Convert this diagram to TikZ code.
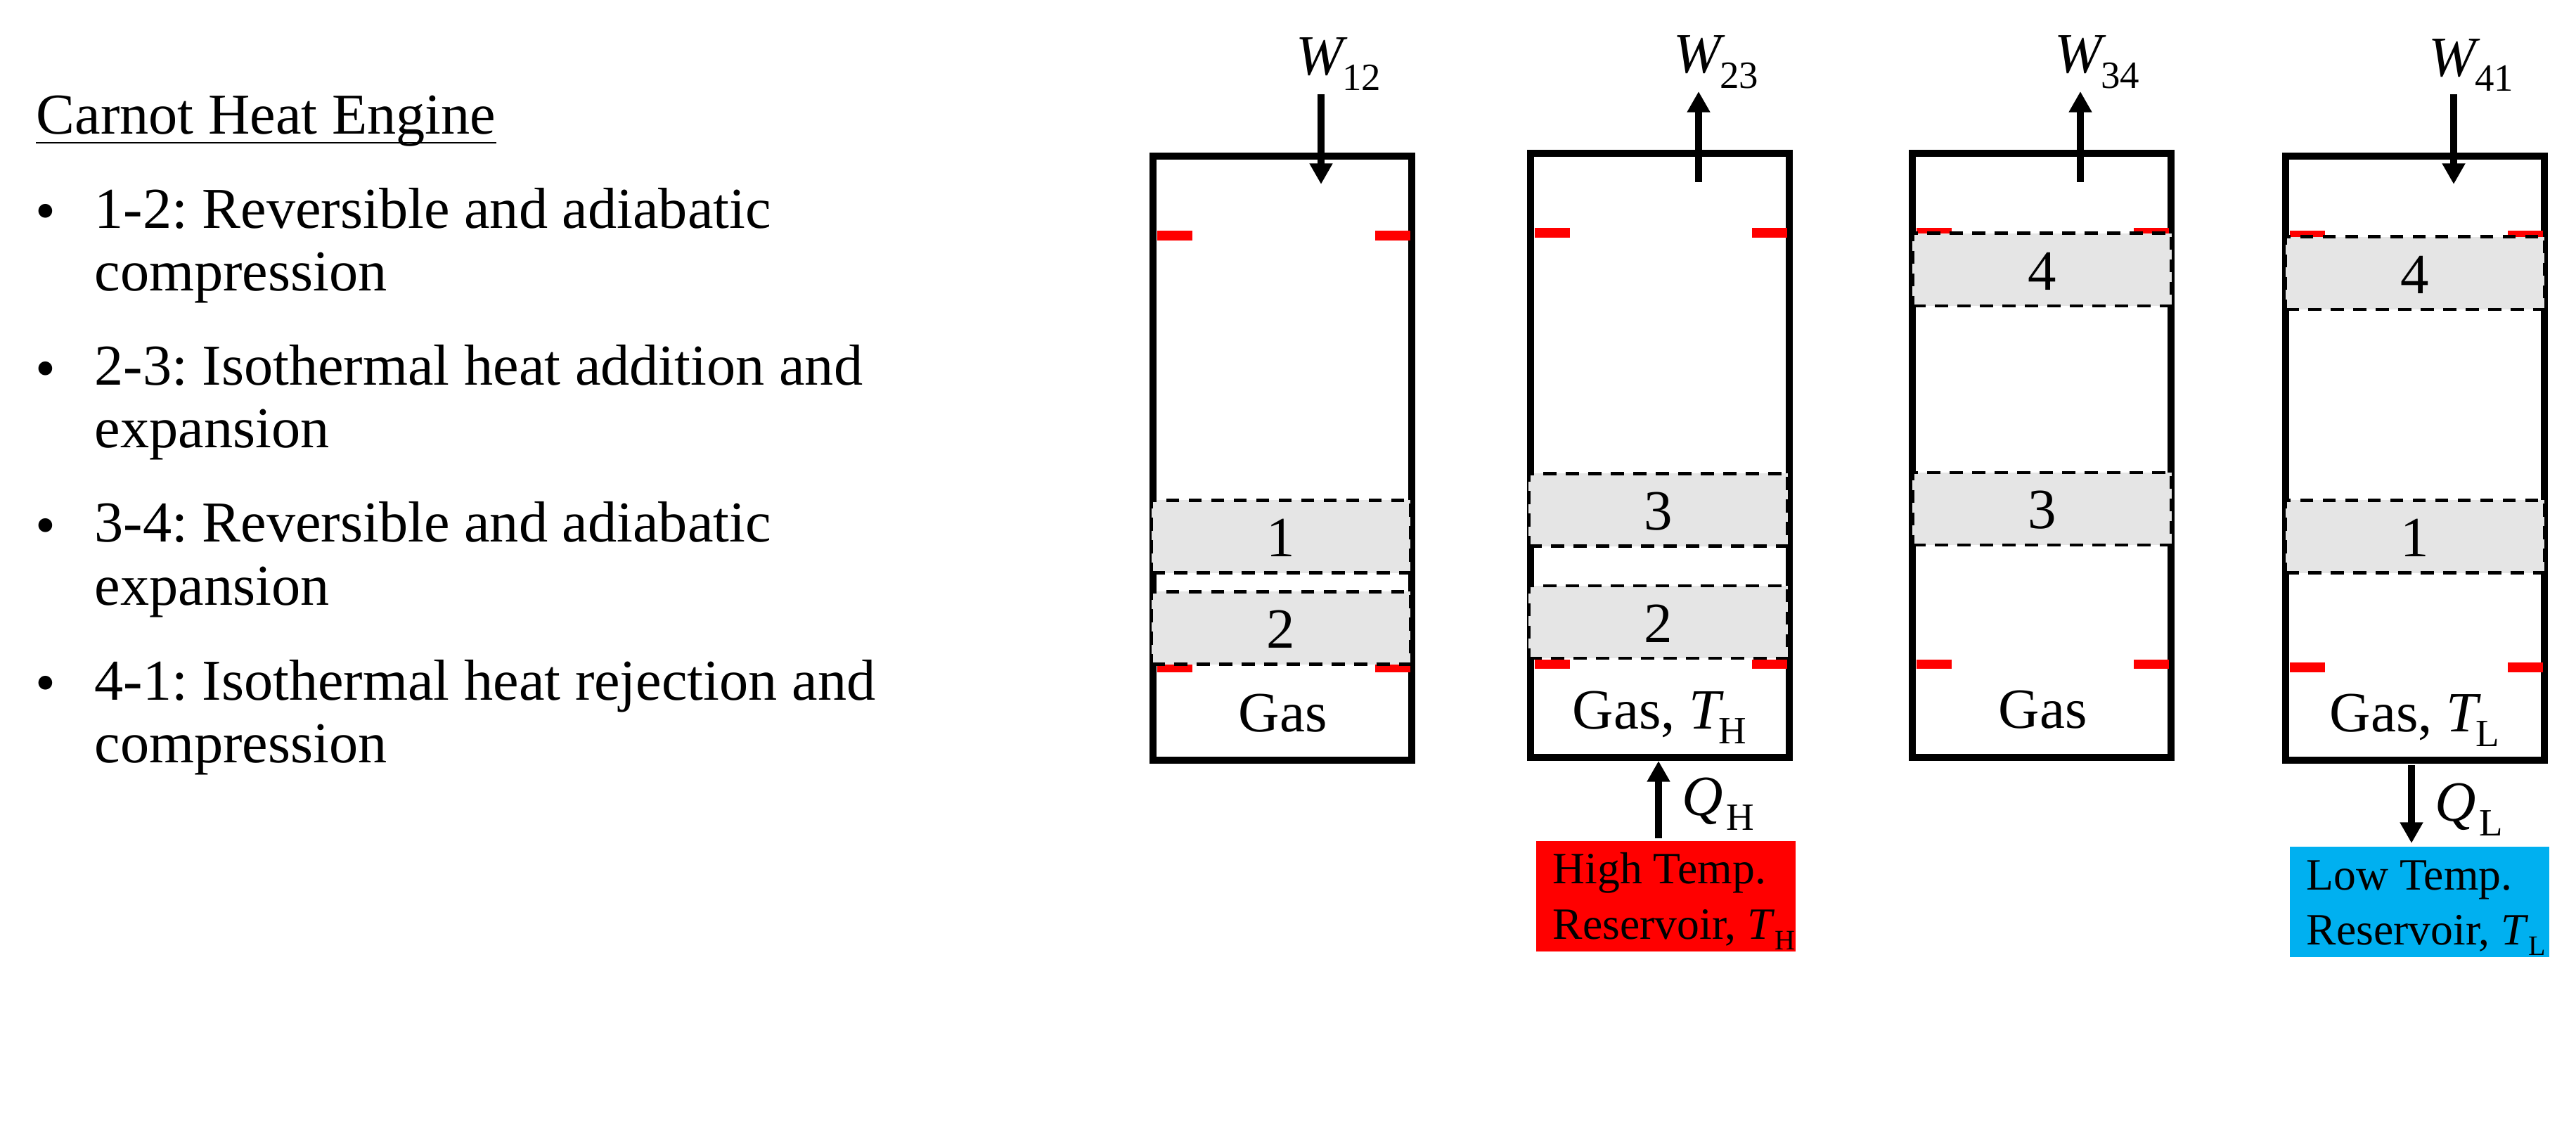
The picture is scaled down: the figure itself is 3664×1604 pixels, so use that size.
\documentclass[tikz,border=0pt]{standalone}
\usepackage{fontspec}
\setmainfont{Liberation Serif}
\usetikzlibrary{arrows.meta}
\definecolor{coldblue}{HTML}{00B0F0}
\tikzset{
  x=0.01cm, y=-0.01cm,
  heading/.style={inner sep=0, anchor=base west, font=\fontsize{23.4}{25.6}\selectfont},
  listline/.style={inner sep=0, anchor=base west, font=\fontsize{23.4}{25.6}\selectfont},
  listdot/.style={inner sep=0, font=\fontsize{23.4}{25.6}\selectfont},
  cylinder box/.style={draw=black, line width=2.85pt, minimum width=3.68cm, minimum height=8.58cm, inner sep=0},
  piston/.style={draw=black, fill=black!10, line width=1.4pt, dash pattern=on 5.3pt off 3.8pt,
    minimum width=3.68cm, minimum height=1.03cm, inner sep=0, text height=0.57cm, font=\fontsize{23}{25}\selectfont},
  stopper/.style={fill=red},
  gaslabel/.style={inner sep=0, anchor=base west, font=\fontsize{23}{25}\selectfont},
  flow/.style={line width=2.6pt, -{Triangle[length=8.4pt,width=8.8pt]}},
  reservoir/.style={minimum width=3.69cm, minimum height=1.565cm, inner sep=0},
  restext/.style={inner sep=0, anchor=base west, font=\fontsize{18.1}{20}\selectfont}
}

\begin{document}
\frenchspacing
\begin{tikzpicture}
      \def\symb#1#2{\textit{#1}\kern-0.1em\raisebox{-6pt}{\fontsize{15.6}{18}\selectfont #2}}
      \def\symq#1#2{\textit{#1}\kern0.05em\raisebox{-6pt}{\fontsize{15.6}{18}\selectfont #2}}
      \def\symc#1#2{\textit{#1}\raisebox{-4.3pt}{\fontsize{11.4}{13}\selectfont #2}}
      \useasboundingbox (0,0) rectangle (3664,1604);

      % Text on the left
      \node[heading] (title) at (51,191) {Carnot Heat Engine};
      \draw[line width=0.85pt] ([yshift=-0.12cm]title.base west) -- ([yshift=-0.12cm]title.base east);

      \node[listdot] (dota) at (65,309) {\textbullet};
      \node[listline] (ita) at (134,324.5) {1-2: Reversible and adiabatic};
      \node[listline] (itb) at (134,414) {compression};
      \node[listdot] (dotb) at (65,533) {\textbullet};
      \node[listline] (itc) at (134,548) {2-3: Isothermal heat addition and};
      \node[listline] (itd) at (134,637) {expansion};
      \node[listdot] (dotc) at (65,756) {\textbullet};
      \node[listline] (ite) at (134,771) {3-4: Reversible and adiabatic};
      \node[listline] (itf) at (134,861) {expansion};
      \node[listdot] (dotd) at (65,980) {\textbullet};
      \node[listline] (itg) at (134,995) {4-1: Isothermal heat rejection and};
      \node[listline] (ith) at (134,1084) {compression};

      % Cylinders
      \node[cylinder box] (cyla) at (1824,651.5) {};
      \node[cylinder box] (cylb) at (2361,647.5) {};
      \node[cylinder box] (cylc) at (2904,647.5) {};
      \node[cylinder box] (cyld) at (3435,651.5) {};

      % Stops
      \fill[stopper] (1646,328) rectangle (1696,342);
      \fill[stopper] (1956,328) rectangle (2006,342);
      \fill[stopper] (1646,942) rectangle (1696,956);
      \fill[stopper] (1956,942) rectangle (2006,956);
      \fill[stopper] (2183,324) rectangle (2233,338);
      \fill[stopper] (2492,324) rectangle (2542,338);
      \fill[stopper] (2183,938) rectangle (2233,951);
      \fill[stopper] (2492,938) rectangle (2542,951);
      \fill[stopper] (2726,324) rectangle (2776,338);
      \fill[stopper] (3035,324) rectangle (3085,338);
      \fill[stopper] (2726,938) rectangle (2776,951);
      \fill[stopper] (3035,938) rectangle (3085,951);
      \fill[stopper] (3257,328) rectangle (3307,342);
      \fill[stopper] (3567,328) rectangle (3617,342);
      \fill[stopper] (3257,942) rectangle (3307,956);
      \fill[stopper] (3567,942) rectangle (3617,956);

      % Pistons
      \node[piston] (pistaa) at (1822,763) {1};
      \node[piston] (pistab) at (1822,893) {2};
      \node[piston] (pistbc) at (2358.5,725) {3};
      \node[piston] (pistbb) at (2358.5,884.5) {2};
      \node[piston] (pistcd) at (2904.5,383.5) {4};
      \node[piston] (pistcc) at (2904.5,723.5) {3};
      \node[piston] (pistdd) at (3435,388.5) {4};
      \node[piston] (pistda) at (3435,763) {1};

      % Gas labels
      \node[gaslabel] (gasa) at (1761,1040) {Gas};
      \node[gaslabel] (gasb) at (2236,1036) {Gas, \symb{T}{H}};
      \node[gaslabel] (gasc) at (2842,1035) {Gas};
      \node[gaslabel] (gasd) at (3313,1040) {Gas, \symb{T}{L}};

      % Work
      \node[gaslabel] (wab) at (1843,107) {\symb{W}{12}};
      \node[gaslabel] (wbc) at (2380,104) {\symb{W}{23}};
      \node[gaslabel] (wcd) at (2922,104) {\symb{W}{34}};
      \node[gaslabel] (wda) at (3454,108.5) {\symb{W}{41}};
      \coordinate (wabs) at (1879,134);
      \coordinate (wabe) at (1879,262);
      \coordinate (wbcs) at (2416,259);
      \coordinate (wbce) at (2416,130);
      \coordinate (wcds) at (2959,259);
      \coordinate (wcde) at (2959,130);
      \coordinate (wdas) at (3490,134);
      \coordinate (wdae) at (3490,262);
      \draw[flow] (wabs) -- (wabe);
      \draw[flow] (wbcs) -- (wbce);
      \draw[flow] (wcds) -- (wcde);
      \draw[flow] (wdas) -- (wdae);

      % Reservoirs
      \node[reservoir, fill=red] (hot) at (2369.5,1274.5) {};
      \node[reservoir, fill=coldblue] (cold) at (3441.5,1282.5) {};
      \node[restext] (hota) at (2208,1256.7) {High Temp.};
      \node[restext] (hotb) at (2208,1335) {Reservoir, \symc{T}{H}};
      \node[restext] (colda) at (3280,1265) {Low Temp.};
      \node[restext] (coldb) at (3280,1343.7) {Reservoir, \symc{T}{L}};

      % Heat
      \node[gaslabel] (qh) at (2392,1159) {\symq{Q}{H}};
      \node[gaslabel] (ql) at (3463,1167) {\symq{Q}{L}};
      \coordinate (qhs) at (2359,1192);
      \coordinate (qhe) at (2359,1082);
      \coordinate (qls) at (3430,1088);
      \coordinate (qle) at (3430,1199);
      \draw[flow] (qhs) -- (qhe);
      \draw[flow] (qls) -- (qle);
\end{tikzpicture}
\end{document}
